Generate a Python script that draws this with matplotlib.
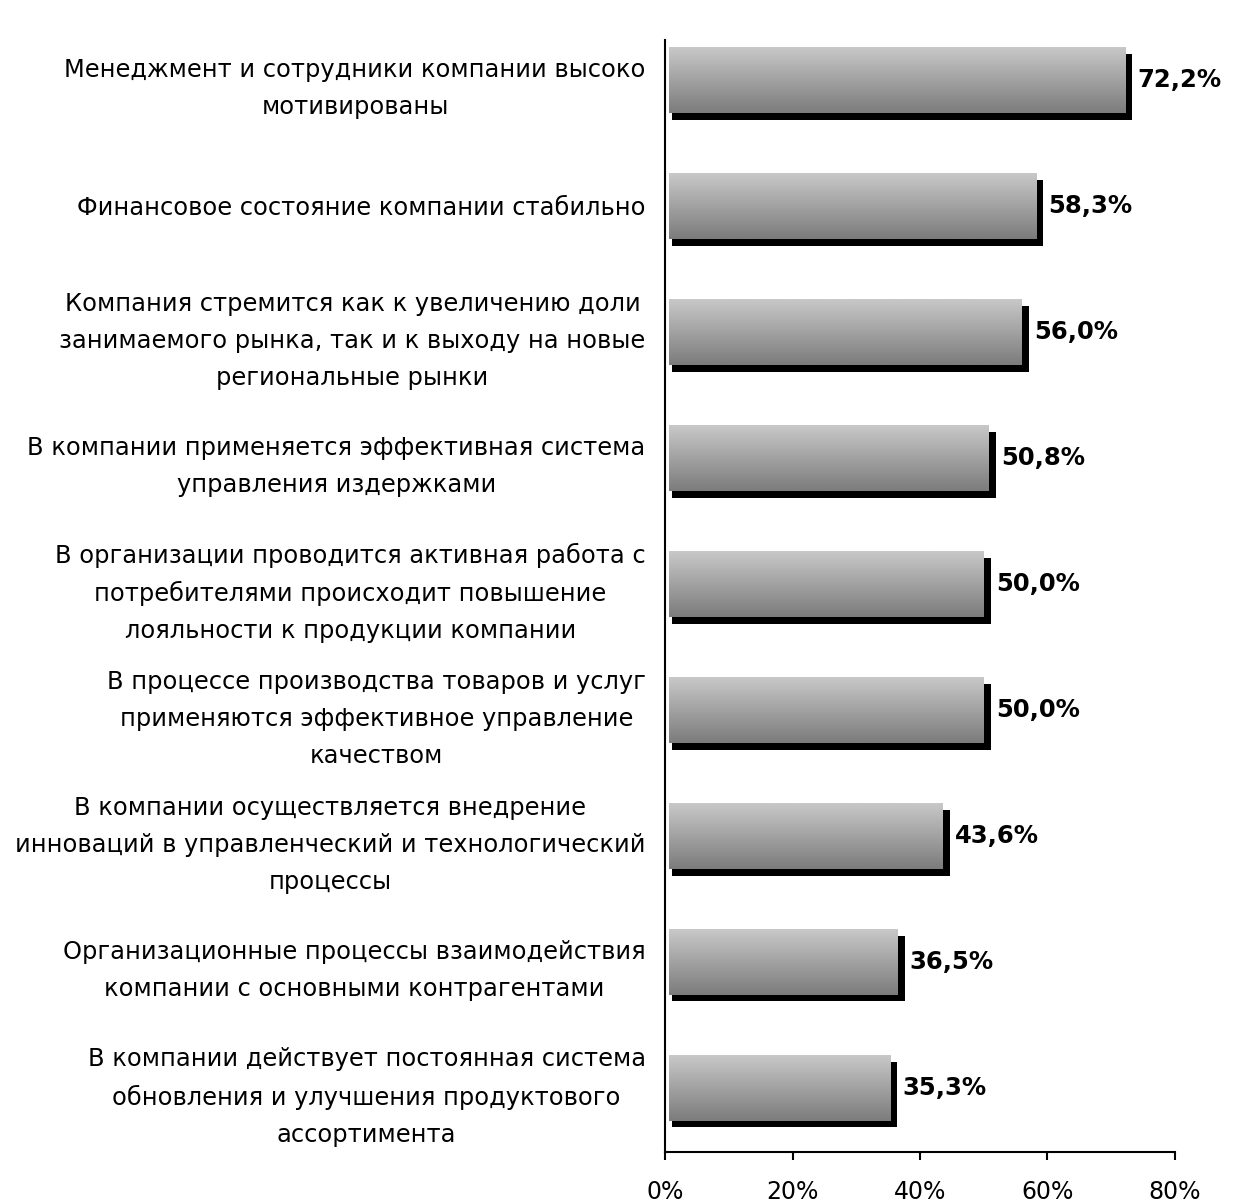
import matplotlib.pyplot as plt
import matplotlib.transforms as mtransforms
import numpy as np

# Survey statements and share of respondents (%)
labels = [
    "Менеджмент и сотрудники компании высоко\nмотивированы",
    "Финансовое состояние компании стабильно",
    "Компания стремится как к увеличению доли\nзанимаемого рынка, так и к выходу на новые\nрегиональные рынки",
    "В компании применяется эффективная система\nуправления издержками",
    "В организации проводится активная работа с\nпотребителями происходит повышение\nлояльности к продукции компании",
    "В процессе производства товаров и услуг\nприменяются эффективное управление\nкачеством",
    "В компании осуществляется внедрение\nинноваций в управленческий и технологический\nпроцессы",
    "Организационные процессы взаимодействия\nкомпании с основными контрагентами",
    "В компании действует постоянная система\nобновления и улучшения продуктового\nассортимента",
]
values = [72.2, 58.3, 56.0, 50.8, 50.0, 50.0, 43.6, 36.5, 35.3]
xticks = [0, 20, 40, 60, 80]

plt.rcParams['font.family'] = ['DejaVu Sans']

fig = plt.figure(figsize=(12.34, 12.02), dpi=100)
ax = fig.add_axes([0.539, 0.0416, 0.413, 0.9254])

y = np.arange(len(values))
h = 0.52

# black shadow shifted right/down
shadow = mtransforms.offset_copy(ax.transData, fig=fig, x=5, y=-5, units='points')
ax.barh(y, values, height=h, color='black', transform=shadow, zorder=1)

# gradient fill (light top -> dark bottom)
grad = np.linspace(0, 1, 64).reshape(-1, 1)
cmap = plt.matplotlib.colors.LinearSegmentedColormap.from_list('g', ['#c8c8c8', '#7c7c7c'])
for yi, v in zip(y, values):
    ax.imshow(grad, cmap=cmap, aspect='auto', extent=(0.6, v, yi + h / 2, yi - h / 2),
              zorder=2, interpolation='bilinear')
    ax.text(v + 1.9, yi, f"{v:.1f}%".replace('.', ','), va='center', ha='left',
            fontsize=17.5, fontweight='bold', zorder=3)

ax.set_xlim(0, 80)
ax.set_ylim(8.51, -0.32)
ax.set_xticks(xticks)
ax.set_xticklabels([f"{t}%" for t in xticks], fontsize=17)
ax.set_yticks(y)
ax.set_yticklabels(labels, fontsize=17.4, linespacing=1.68)
for lbl in ax.get_yticklabels():
    lbl.set_multialignment('center')

ax.tick_params(axis='y', length=0, pad=14)
ax.tick_params(axis='x', length=6, width=1.5, pad=14, direction='out')
for s in ['top', 'right']:
    ax.spines[s].set_visible(False)
ax.spines['left'].set_linewidth(1.5)
ax.spines['bottom'].set_linewidth(1.5)

fig.savefig('out.png', dpi=100)
